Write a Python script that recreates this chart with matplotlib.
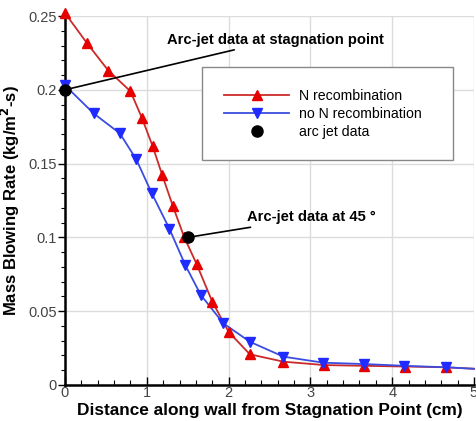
import matplotlib
matplotlib.use("Agg")
import matplotlib.pyplot as plt
from matplotlib.lines import Line2D
from matplotlib.ticker import MultipleLocator

plt.rcParams['font.family'] = ['Liberation Sans', 'DejaVu Sans']

# N recombination
x_rec = [0.0, 0.27, 0.53, 0.80, 0.94, 1.07, 1.19, 1.32, 1.455, 1.61, 1.80, 2.00, 2.26, 2.67, 3.17, 3.66, 4.16, 4.66, 5.0]
y_rec = [0.252, 0.2315, 0.213, 0.199, 0.181, 0.162, 0.142, 0.121, 0.1005, 0.0818, 0.0565, 0.036, 0.0208, 0.0158, 0.0135, 0.013, 0.0125, 0.012, 0.011]
# no N recombination
x_norec = [0.0, 0.35, 0.67, 0.87, 1.06, 1.275, 1.47, 1.66, 1.935, 2.26, 2.67, 3.16, 3.66, 4.15, 4.66, 5.0]
y_norec = [0.203, 0.184, 0.1705, 0.153, 0.130, 0.106, 0.0813, 0.061, 0.0418, 0.0293, 0.0192, 0.0151, 0.0142, 0.013, 0.012, 0.011]
# arc jet data
x_arc = [0.0, 1.5]
y_arc = [0.2, 0.1]

x_ticks = [0, 1, 2, 3, 4, 5]
x_ticklabels = ['0', '1', '2', '3', '4', '5']
y_ticks = [0, 0.05, 0.1, 0.15, 0.2, 0.25]
y_ticklabels = ['0', '0.05', '0.1', '0.15', '0.2', '0.25']

fig = plt.figure(figsize=(4.77, 4.21), dpi=100)
ax = fig.add_axes([65/477, 1-385/421, 409/477, 369/421])

red_line = '#cc2a2a'
red_mk = '#e60000'
blue_line = '#3b4de0'
blue_mk = '#1f2bff'

ax.plot(x_rec, y_rec, color=red_line, lw=1.3, zorder=3, clip_on=False)
ax.plot(x_rec[:-1], y_rec[:-1], ls='none', marker='^', ms=7.5, color=red_mk, mec=red_mk, zorder=4, clip_on=False)
ax.plot(x_norec, y_norec, color=blue_line, lw=1.3, zorder=3, clip_on=False)
ax.plot(x_norec[:-1], y_norec[:-1], ls='none', marker='v', ms=7.5, color=blue_mk, mec=blue_mk, zorder=4, clip_on=False)
ax.plot(x_arc, y_arc, ls='none', marker='o', ms=8, color='black', zorder=6, clip_on=False)

ax.set_xlim(0, 5)
ax.set_ylim(0, 0.25)
ax.set_xticks(x_ticks)
ax.set_xticklabels(x_ticklabels)
ax.set_yticks(y_ticks)
ax.set_yticklabels(y_ticklabels)
ax.xaxis.set_minor_locator(MultipleLocator(0.2))
ax.yaxis.set_minor_locator(MultipleLocator(0.01))

ax.grid(True, which='major', color='#dcdcdc', lw=1.0)
ax.set_axisbelow(True)
for s in ['top', 'right']:
    ax.spines[s].set_visible(False)
for s in ['left', 'bottom']:
    ax.spines[s].set_linewidth(1.8)

ax.tick_params(axis='x', which='major', direction='in', length=6, width=1, labelsize=10.5, labelcolor='#444444', pad=1)
ax.tick_params(axis='x', which='minor', direction='in', length=3.5, width=0.8)
ax.tick_params(axis='y', which='major', direction='out', length=5, width=1, labelsize=10.5, labelcolor='#444444', pad=1)
ax.tick_params(axis='y', which='minor', direction='out', length=3, width=0.8)

ax.set_xlabel('Distance along wall from Stagnation Point (cm)', fontsize=12.4, fontweight='bold', labelpad=2)
ax.set_ylabel('Mass Blowing Rate (kg/m$^\\mathbf{2}$-s)', fontsize=12, fontweight='bold', labelpad=4)

ax.annotate('Arc-jet data at stagnation point', xy=(x_arc[0], y_arc[0]), xytext=(1.25, 0.2337),
            textcoords='data', fontsize=10.6, fontweight='bold', va='center', ha='left',
            arrowprops=dict(arrowstyle='-', color='black', lw=1.2, shrinkA=0, shrinkB=0), zorder=7)
ax.annotate('Arc-jet data at 45 °', xy=(x_arc[1], y_arc[1]), xytext=(2.22, 0.1135),
            textcoords='data', fontsize=10.6, fontweight='bold', va='center', ha='left',
            arrowprops=dict(arrowstyle='-', color='black', lw=1.2, shrinkA=0, shrinkB=0), zorder=7)

handles = [
    Line2D([], [], color=red_line, lw=1.3, marker='^', ms=7.5, mfc=red_mk, mec=red_mk),
    Line2D([], [], color=blue_line, lw=1.3, marker='v', ms=7.5, mfc=blue_mk, mec=blue_mk),
    Line2D([], [], ls='none', marker='o', ms=8, color='black'),
]
labels = ['N recombination', 'no N recombination', 'arc jet data']
x0 = (202-65)/409
w = (453-202)/409
y1 = (385-66)/369
h = (162-66)/369
leg = ax.legend(handles, labels, loc='center left', bbox_to_anchor=(x0, y1-h, w, h), mode='expand',
                fontsize=10.2, frameon=True, fancybox=False, edgecolor='#888888', framealpha=1,
                handlelength=4.6, handletextpad=0.7, labelspacing=0.25, borderpad=1.55, borderaxespad=0)
leg.get_frame().set_linewidth(1.0)

fig.savefig('out.png', dpi=100)
